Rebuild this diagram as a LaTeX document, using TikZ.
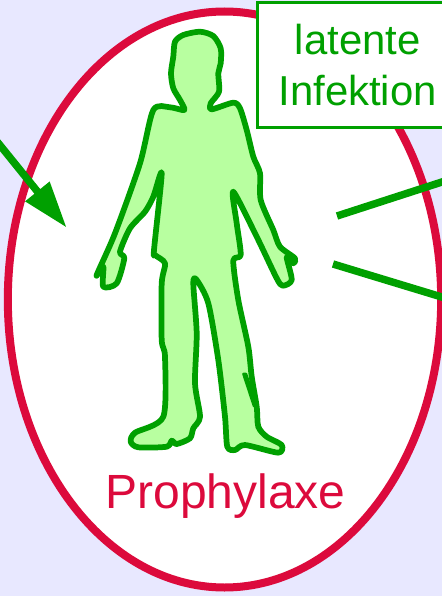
\documentclass[tikz,border=0pt]{standalone}
\usepackage{fontspec}
\setmainfont{Liberation Sans}
\usetikzlibrary{arrows.meta,shapes.geometric}
\definecolor{bgc}{HTML}{E8E8FF}
\definecolor{redc}{HTML}{DC0A3C}
\definecolor{grn}{HTML}{00A000}
\definecolor{fillg}{HTML}{B8FFA0}
\tikzset{
  ring/.style={ellipse,draw=redc,line width=6pt,fill=white,inner sep=0pt,minimum width=325pt,minimum height=432pt},
  ptr/.style={draw=grn,line width=5.6pt},
  body/.style={draw=grn,fill=fillg,line width=4.3pt,line join=round},
  infobox/.style={draw=grn,fill=white,line width=1.8pt,align=center,inner sep=0pt,minimum width=146pt,minimum height=94pt,font=\fontsize{31.4}{38}\selectfont,text=grn},
  caption/.style={font=\fontsize{36}{40}\selectfont,text=redc,inner sep=0pt}
}
\begin{document}
\begin{tikzpicture}[x=0.75pt,y=-0.75pt]
\useasboundingbox (0,0) rectangle (442,596);
\clip (0,0) rectangle (442,596);
\fill[bgc] (0,0) rectangle (442,596);
\node[ring] (oval) at (224.5,299.5) {};
% figure
\draw[body] plot[smooth cycle,tension=0.45] coordinates {
(184.3,110)(180,100)(173.3,88.3)(171,73.3)(173.3,56.7)(175,41.7)(183.3,35)(200,31.7)(213.3,36)(220.7,48.3)(220.7,63.3)(218.3,73.3)(219,91.7)(210.7,103.3)(211.7,109.3)(233.3,102.7)(240,108.3)(246.7,130)(253.3,156.7)(260,173.3)(260.7,200)(273.3,230)(280,246.7)(295,258.3)(293.3,263.3)(286.7,257.3)(291.7,280)(282.7,285.7)(276.7,278.3)(256.7,236.7)(233.3,191.7)(236.7,223.3)(240.7,255)(233.3,260.7)(238.3,300)(248.3,346.7)(251.7,376.7)(256.7,406.7)(258.3,426.7)(266.7,436.7)(281.7,445)(278.3,452.7)(245,445)(235,450)(227.3,446.7)(225,416.7)(218.3,360)(208.3,303.3)(196.7,280)(193.3,283.3)(196.7,333.3)(195,383.3)(200,416.7)(193.3,428.3)(190,438.3)(176.7,444)(171.7,440.7)(166.7,446.7)(138.3,447.3)(130.7,441.7)(135,432.7)(163.3,416.7)(165,356.7)(161.7,340)(161.7,283.3)(165,263.3)(155,255)(154,250)(161.7,173.3)(153.3,196.7)(145,211.7)(130,228.3)(120,251.7)(124.3,258.3)(116.7,283.3)(103.3,286.7)(103.3,266.7)(96.7,275)(115,233.3)(140,163.3)(153.3,110)(170,107.3)};
\fill[grn,draw=grn,line width=2pt,line join=round] (243.5,374) -- (246,374) -- (256.5,406) -- (254,406) -- cycle;
% box and caption
\node[infobox] (info) at (355,65) {\hspace*{4pt}latente\\\hspace*{4pt}Infektion};
\node[caption] (cap) at (225.5,496) {Prophylaxe};
% connectors
\coordinate (inA) at (-3,141.5);
\coordinate (inB) at (66.7,227.7);
\coordinate (r1a) at (337,216);
\coordinate (r1b) at (445,181);
\coordinate (r2a) at (333,264);
\coordinate (r2b) at (445,298);
\draw[ptr,-{Triangle[length=35pt,width=22pt]}] (inA) -- (inB);
\draw[ptr] (r1a) -- (r1b);
\draw[ptr] (r2a) -- (r2b);
\end{tikzpicture}
\end{document}
